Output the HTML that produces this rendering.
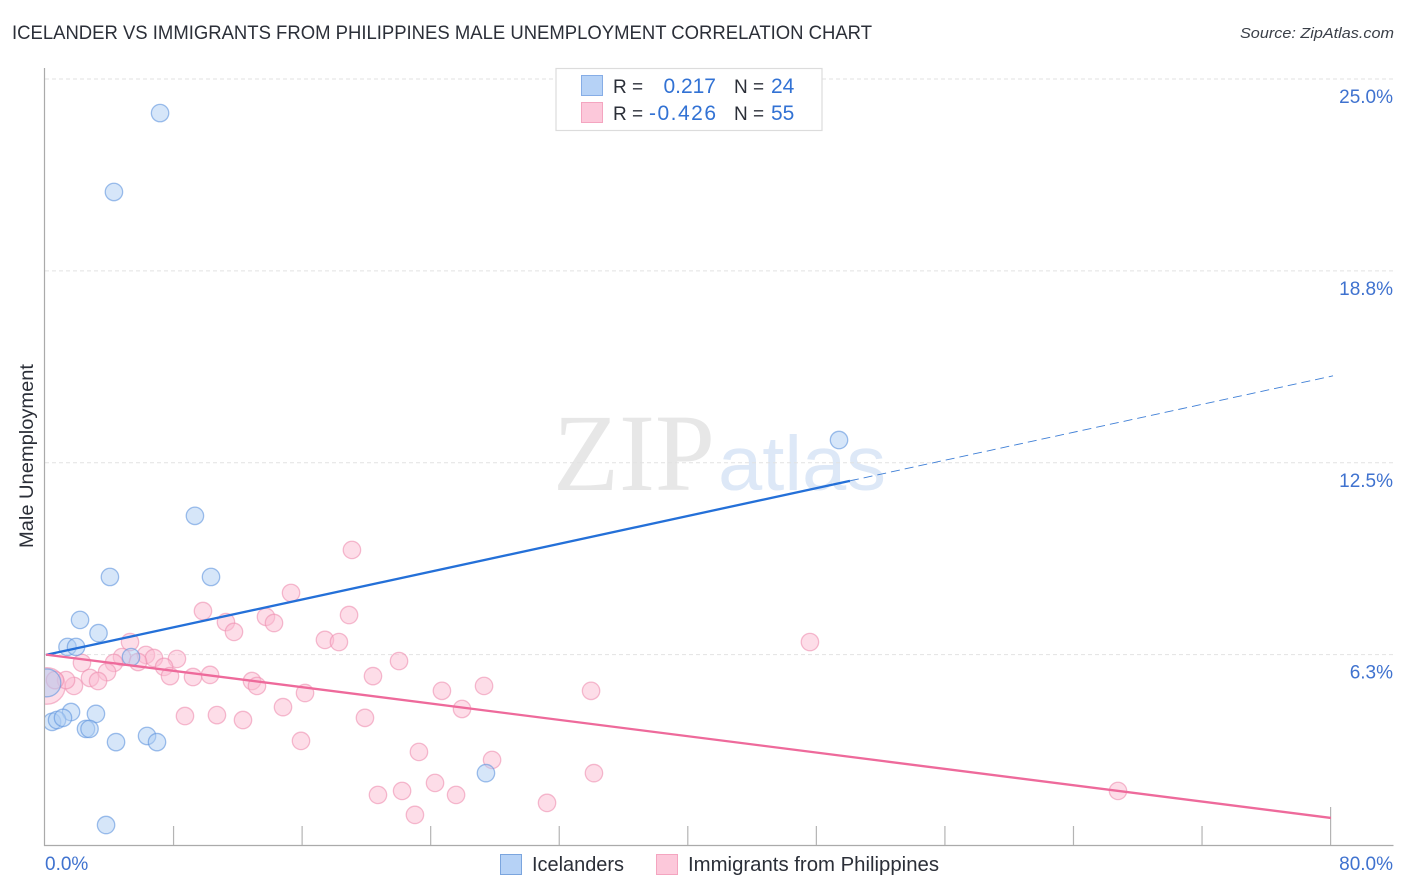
<!DOCTYPE html>
<html lang="en">
<head>
<meta charset="utf-8">
<title>Icelander vs Immigrants from Philippines Male Unemployment Correlation Chart</title>
<style>
html,body{margin:0;padding:0;background:#fff;width:1406px;height:892px;overflow:hidden}
svg{display:block;font-family:"Liberation Sans",sans-serif}
</style>
</head>
<body>
<svg id="chart" width="1406" height="892" viewBox="0 0 1406 892" xmlns="http://www.w3.org/2000/svg">
  <defs><clipPath id="plot-clip"><rect x="45" y="60" width="1350" height="786"/></clipPath></defs>
  <text x="12" y="39" font-size="19" fill="#2b2f38" textLength="860" lengthAdjust="spacingAndGlyphs">ICELANDER VS IMMIGRANTS FROM PHILIPPINES MALE UNEMPLOYMENT CORRELATION CHART</text>
  <text x="1394" y="38" font-size="15" font-style="italic" fill="#3a3f48" text-anchor="end" textLength="154" lengthAdjust="spacingAndGlyphs">Source: ZipAtlas.com</text>
  <g>
    <text x="553" y="490" font-size="110" fill="#e7e7e7" font-family="'Liberation Serif',serif" textLength="162" lengthAdjust="spacingAndGlyphs">ZIP</text>
    <text x="718" y="490" font-size="77" fill="#dde8f7" textLength="168" lengthAdjust="spacingAndGlyphs">atlas</text>
  </g>
  <g id="grid"></g>
  <g id="axes"></g>
  <g id="y-labels"></g>
  <g id="points" clip-path="url(#plot-clip)"></g>
  <g id="trends"></g>
  <text transform="translate(33,456) rotate(-90)" font-size="19" fill="#2b2f38" text-anchor="middle" textLength="184" lengthAdjust="spacingAndGlyphs">Male Unemployment</text>
  <text x="45" y="870" font-size="19" fill="#3f72cf">0.0%</text>
  <text x="1393" y="870" font-size="19" fill="#3f72cf" text-anchor="end">80.0%</text>

  <g>
    <rect x="556" y="68.5" width="266" height="62" fill="#fff" stroke="#dcdcdc" stroke-width="1.2"/>
    <rect x="581.5" y="75.5" width="21" height="20" fill="#b6d2f6" stroke="#86ade6"/>
    <rect x="581.5" y="102.5" width="21" height="20" fill="#fcc8da" stroke="#f4a5c0"/>
    <text x="613" y="93" font-size="19" fill="#2b2f38">R =</text>
    <text x="716" y="93" font-size="21" fill="#3272d4" text-anchor="end">0.217</text>
    <text x="734" y="93" font-size="19" fill="#2b2f38">N =</text>
    <text x="771" y="93" font-size="21" fill="#3272d4">24</text>
    <text x="613" y="120" font-size="19" fill="#2b2f38">R =</text>
    <text x="649" y="120" font-size="21" fill="#3272d4" textLength="67" lengthAdjust="spacing">-0.426</text>
    <text x="734" y="120" font-size="19" fill="#2b2f38">N =</text>
    <text x="771" y="120" font-size="21" fill="#3272d4">55</text>
  </g>

  <g>
    <g>
      <rect x="500.5" y="854.5" width="21" height="20" fill="#b6d2f6" stroke="#7ba5de"/>
      <text x="532" y="871" font-size="20" fill="#2b2f38" textLength="92" lengthAdjust="spacingAndGlyphs">Icelanders</text>
    </g>
    <g>
      <rect x="656.5" y="854.5" width="21" height="20" fill="#fcc8da" stroke="#f4a5c0"/>
      <text x="688" y="871" font-size="20" fill="#2b2f38" textLength="251" lengthAdjust="spacingAndGlyphs">Immigrants from Philippines</text>
    </g>
  </g>
</svg>
<script>
var yTicks = [25.0, 18.75, 12.5, 6.25];
var yTickLabels = ["25.0%", "18.8%", "12.5%", "6.3%"];
var xTicks = [8, 16, 24, 32, 40, 48, 56, 64, 72, 80];

var icelanderX = [7.16,4.29,49.41,9.33,4.04,10.33,2.18,3.33,1.40,1.93,5.35,0.12,1.62,3.17,0.44,0.75,1.12,2.55,2.77,4.42,6.35,6.97,27.44,3.80];
var icelanderY = [23.89,21.32,13.24,10.77,8.78,8.78,7.38,6.95,6.50,6.50,6.17,5.33,4.38,4.32,4.06,4.12,4.19,3.83,3.83,3.40,3.60,3.40,2.39,0.70];
var icelanderSize = [1,1,1,1,1,1,1,1,1,1,1,1.6,1,1,1,1,1,1,1,1,1,1,1,1];

var philippinesX = [0.12,19.10,15.31,9.83,18.92,13.75,14.25,11.26,11.76,5.29,17.42,18.29,47.60,4.79,6.28,6.78,8.21,22.03,2.30,4.29,5.79,7.41,3.86,10.27,9.21,7.78,20.41,2.80,3.30,12.88,13.19,1.80,1.31,0.62,24.70,27.32,33.98,16.18,14.81,25.95,8.71,10.70,12.32,19.91,15.93,23.27,27.82,34.16,24.27,20.72,22.22,25.58,66.77,31.24,23.02];
var philippinesY = [5.23,9.66,8.26,7.67,7.54,7.48,7.28,7.31,6.99,6.66,6.73,6.66,6.66,6.17,6.24,6.14,6.11,6.04,5.98,5.98,6.01,5.85,5.68,5.59,5.52,5.55,5.55,5.49,5.39,5.39,5.23,5.23,5.42,5.42,5.07,5.23,5.07,5.00,4.54,4.48,4.25,4.28,4.12,4.19,3.44,3.08,2.82,2.39,2.07,1.68,1.81,1.68,1.81,1.42,1.03];
var philippinesSize = [2.1,1,1,1,1,1,1,1,1,1,1,1,1,1,1,1,1,1,1,1,1,1,1,1,1,1,1,1,1,1,1,1,1,1,1,1,1,1,1,1,1,1,1,1,1,1,1,1,1,1,1,1,1,1,1];

var icelanderTrendX = [0.06, 50.09];
var icelanderTrendY = [6.24, 11.91];
var icelanderForecastX = [50.09, 80.15];
var icelanderForecastY = [11.91, 15.33];
var philippinesTrendX = [0.06, 80.02];
var philippinesTrendY = [6.25, 0.93];

var NS = 'http://www.w3.org/2000/svg';
function xScale(v){ return 45 + v * 16.07; }
function yScale(v){ return 79 + (25 - v) * 30.7; }
function make(tag, attrs, parent){
  var el = document.createElementNS(NS, tag);
  for (var k in attrs) el.setAttribute(k, attrs[k]);
  parent.appendChild(el);
  return el;
}

var grid = document.getElementById('grid');
var yLab = document.getElementById('y-labels');
yTicks.forEach(function(t, i){
  var y = yScale(t);
  var line = make('line', {x1:45, x2:1393, y1:y, y2:y, stroke:'#e2e2e2', 'stroke-width':1, 'stroke-dasharray':'4 3'}, grid);
  
  
  var txt = make('text', {x:1393, y:y + 24, 'font-size':19, fill:'#3f72cf', 'text-anchor':'end'}, yLab);
  
  
  txt.textContent = yTickLabels[i];
});

var axes = document.getElementById('axes');
var yAxis = make('line', {x1:44.5, x2:44.5, y1:68, y2:846, stroke:'#aaaaaa', 'stroke-width':1.2}, axes);


var xAxis = make('line', {x1:44, x2:1393.5, y1:845.5, y2:845.5, stroke:'#aaaaaa', 'stroke-width':1.2}, axes);


xTicks.forEach(function(t, i){
  var x = xScale(t);
  var top = i === xTicks.length - 1 ? 807 : 826;
  var tick = make('line', {x1:x, x2:x, y1:top, y2:845, stroke:'#b4b4b4', 'stroke-width':1.2}, axes);
  
  
});

var pts = document.getElementById('points');
function drawSeries(xs, ys, sizes, fill, stroke, name){
  xs.forEach(function(v, i){
    var c = make('circle', {cx:xScale(v), cy:yScale(ys[i]), r:8.7 * sizes[i], fill:fill, 'fill-opacity':0.5, stroke:stroke, 'stroke-opacity':0.6, 'stroke-width':1.3}, pts);
    
    
  });
}
drawSeries(philippinesX, philippinesY, philippinesSize, '#fbbcd2', '#ee8fb0', 'philippines-point');
drawSeries(icelanderX, icelanderY, icelanderSize, '#aecdf3', '#5f95dd', 'icelander-point');

var trends = document.getElementById('trends');
var t1 = make('line', {x1:xScale(icelanderTrendX[0]), y1:yScale(icelanderTrendY[0]), x2:xScale(icelanderTrendX[1]), y2:yScale(icelanderTrendY[1]), stroke:'#2470d8', 'stroke-width':2.3}, trends);


var t2 = make('line', {x1:xScale(icelanderForecastX[0]), y1:yScale(icelanderForecastY[0]), x2:xScale(icelanderForecastX[1]), y2:yScale(icelanderForecastY[1]), stroke:'#3f7fd6', 'stroke-width':0.9, 'stroke-dasharray':'9 5'}, trends);


var t3 = make('line', {x1:xScale(philippinesTrendX[0]), y1:yScale(philippinesTrendY[0]), x2:xScale(philippinesTrendX[1]), y2:yScale(philippinesTrendY[1]), stroke:'#ee6a9b', 'stroke-width':2.3}, trends);


</script>
</body>
</html>
